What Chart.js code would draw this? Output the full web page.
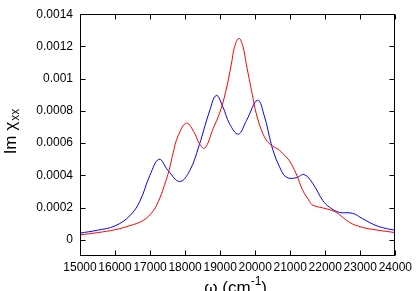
<!DOCTYPE html>
<html>
<head>
<meta charset="utf-8">
<script src="https://cdn.jsdelivr.net/npm/chart.js@4.4.1/dist/chart.umd.min.js"></script>
<style>
  html, body { margin: 0; padding: 0; background: #fff; }
  canvas { display: block; }
</style>
</head>
<body>
<canvas id="chart" width="416" height="291"></canvas>
<script>
// Im chi_xx spectra, two curves.
const omegaRed = [15000, 15500, 16000, 16420, 16800, 17090, 17280, 17420, 17540, 17660,
  17800, 18040, 18275, 18400, 18560, 18800, 18990, 19160, 19320, 19415, 19537, 19650,
  19747, 19918, 20032, 20222, 20411, 20696, 20886, 20981, 21171, 21361, 21551, 21646,
  22026, 22311, 22690, 23054, 23450, 24000];
const imRed = [0.000031, 0.000045, 0.000063, 0.000088, 0.000120, 0.000180, 0.000260,
  0.000345, 0.000430, 0.000540, 0.000645, 0.000724, 0.000660, 0.000600, 0.000569,
  0.000690, 0.000790, 0.000920, 0.001090, 0.001200, 0.001250, 0.001200, 0.001090,
  0.000902, 0.000783, 0.000658, 0.000596, 0.000555, 0.000513, 0.000490, 0.000410,
  0.000306, 0.000240, 0.000215, 0.000193, 0.000171, 0.000109, 0.000078, 0.000062,
  0.000045];

const omegaBlue = [15000, 15500, 16000, 16424, 16709, 16994, 17258, 17515, 17848, 18133,
  18400, 18700, 18890, 19080, 19270, 19520, 19750, 20070, 20270, 20410, 20510, 20700,
  20890, 21170, 21400, 21650, 21930, 22120, 22400, 22780, 23060, 23450, 23750, 24000];
const imBlue = [0.000042, 0.000060, 0.000087, 0.000150, 0.000240, 0.000400, 0.000500,
  0.000430, 0.000362, 0.000430, 0.000586, 0.000800, 0.000896, 0.000824, 0.000720,
  0.000656, 0.000740, 0.000866, 0.000762, 0.000637, 0.000555, 0.000451, 0.000389,
  0.000385, 0.000405, 0.000348, 0.000244, 0.000203, 0.000171, 0.000165, 0.000132,
  0.000089, 0.000070, 0.000060];

const xTicks = [15000, 16000, 17000, 18000, 19000, 20000, 21000, 22000, 23000, 24000];
const yTicks = [0, 0.0002, 0.0004, 0.0006, 0.0008, 0.001, 0.0012, 0.0014];
const yTickLabels = ["0", "0.0002", "0.0004", "0.0006", "0.0008", "0.001", "0.0012", "0.0014"];

const FONT = '"Liberation Sans", Arial, sans-serif';
const TICK = 5;

const toPoints = (xs, ys) => xs.map((x, i) => ({ x, y: ys[i] }));

// gnuplot-like frame: full box with inward ticks on all four sides,
// plus the axis titles (subscript / superscript done by hand).
const frame = {
  id: "frame",
  afterDatasetsDraw(chart) {
    const { ctx, chartArea: a, scales } = chart;
    const L = Math.round(a.left) + 0.5, R = Math.round(a.right) - 0.5;
    const T = Math.round(a.top) + 0.5, B = Math.round(a.bottom) - 0.5;
    ctx.save();
    ctx.strokeStyle = "#000";
    ctx.lineWidth = 1;
    ctx.strokeRect(L, T, R - L, B - T);
    ctx.beginPath();
    xTicks.forEach((v) => {
      const px = Math.round(scales.x.getPixelForValue(v)) + 0.5;
      ctx.moveTo(px, B); ctx.lineTo(px, B - TICK);
      ctx.moveTo(px, T); ctx.lineTo(px, T + TICK);
    });
    yTicks.forEach((v) => {
      const py = Math.round(scales.y.getPixelForValue(v)) + 0.5;
      ctx.moveTo(L, py); ctx.lineTo(L + TICK, py);
      ctx.moveTo(R, py); ctx.lineTo(R - TICK, py);
    });
    ctx.stroke();

    ctx.fillStyle = "#000";
    ctx.textBaseline = "alphabetic";

    // y title: Im χ_xx
    ctx.save();
    ctx.translate(16, (a.top + a.bottom) / 2 - 3);
    ctx.rotate(-Math.PI / 2);
    ctx.font = `17px ${FONT}`;
    const main = "Im χ";
    const w1 = ctx.measureText(main).width;
    ctx.font = `12px ${FONT}`;
    const w2 = ctx.measureText("xx").width;
    const s = -(w1 + w2) / 2;
    ctx.font = `17px ${FONT}`;
    ctx.fillText(main, s, 0);
    ctx.font = `12px ${FONT}`;
    ctx.fillText("xx", s + w1 + 1, 3);
    ctx.restore();

    // x title: ω (cm^-1)
    const cx = (a.left + a.right) / 2 - 2;
    const base = 293;
    ctx.font = `17px ${FONT}`;
    const p1 = "ω (cm", p3 = ")";
    const wa = ctx.measureText(p1).width, wc = ctx.measureText(p3).width;
    ctx.font = `12px ${FONT}`;
    const wb = ctx.measureText("-1").width;
    let x0 = cx - (wa + wb + wc) / 2;
    ctx.font = `17px ${FONT}`;
    ctx.fillText(p1, x0, base);
    ctx.font = `12px ${FONT}`;
    ctx.fillText("-1", x0 + wa, base - 8);
    ctx.font = `17px ${FONT}`;
    ctx.fillText(p3, x0 + wa + wb, base);
    ctx.restore();
  },
};

new Chart(document.getElementById("chart"), {
  type: "line",
  data: {
    datasets: [
      {
        data: toPoints(omegaRed, imRed),
        borderColor: "rgb(255,0,0)",
        borderWidth: 1,
        pointRadius: 0,
        tension: 0.4,
        fill: false,
      },
      {
        data: toPoints(omegaBlue, imBlue),
        borderColor: "rgb(0,0,255)",
        borderWidth: 1,
        pointRadius: 0,
        tension: 0.4,
        fill: false,
      },
    ],
  },
  options: {
    responsive: false,
    animation: false,
    layout: { padding: { left: 0, top: 14, right: 20, bottom: 0 } },
    plugins: { legend: { display: false }, tooltip: { enabled: false } },
    scales: {
      x: {
        type: "linear",
        min: 15000,
        max: 24000,
        afterBuildTicks: (sc) => { sc.ticks = xTicks.map((value) => ({ value })); },
        afterFit: (sc) => { sc.height = 35; },
        ticks: {
          color: "#000",
          font: { family: FONT, size: 12 },
          padding: 4,
          maxRotation: 0,
          autoSkip: false,
          callback: (v) => String(v),
        },
        grid: { display: false, drawTicks: false },
        border: { display: false },
      },
      y: {
        type: "linear",
        min: -0.0001,
        max: 0.0014,
        afterBuildTicks: (sc) => { sc.ticks = yTicks.map((value) => ({ value })); },
        afterFit: (sc) => { sc.width = 80; },
        ticks: {
          color: "#000",
          font: { family: FONT, size: 12 },
          padding: 7,
          autoSkip: false,
          callback: (v) => {
            const i = yTicks.findIndex((t) => Math.abs(t - v) < 1e-9);
            return i >= 0 ? yTickLabels[i] : "";
          },
        },
        grid: { display: false, drawTicks: false },
        border: { display: false },
      },
    },
  },
  plugins: [frame],
});
</script>
</body>
</html>
